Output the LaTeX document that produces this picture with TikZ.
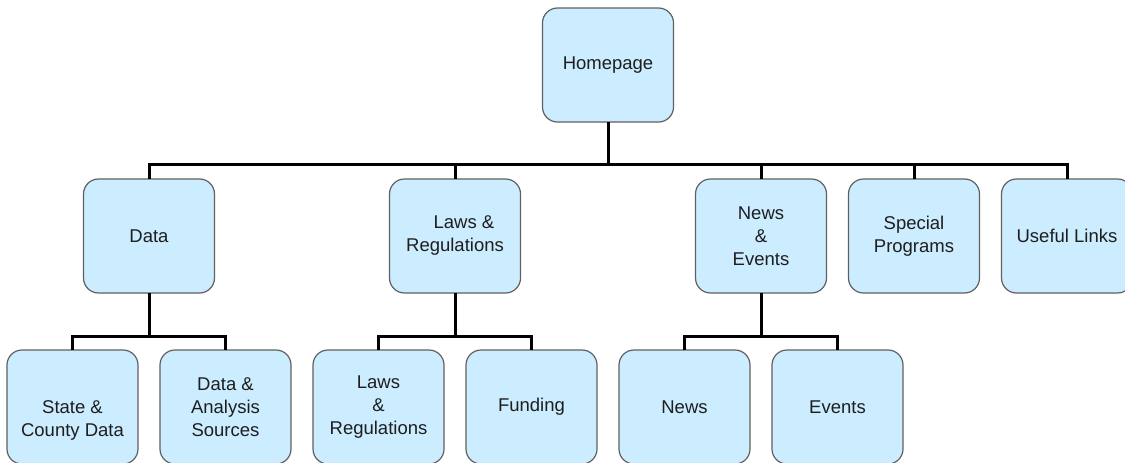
\documentclass[tikz,border=0pt]{standalone}
\usepackage{fontspec}
\setmainfont{Liberation Sans}
\usetikzlibrary{positioning,calc}
\definecolor{SiteFill}{RGB}{204,236,255}
\definecolor{SiteEdge}{RGB}{96,96,96}
\definecolor{SiteText}{RGB}{30,30,30}
\tikzset{
  site box/.style={
    draw=SiteEdge,
    fill=SiteFill,
    line width=1.2pt,
    rounded corners=15pt,
    align=center,
    text=SiteText,
    font=\fontsize{18.5}{23}\selectfont,
    inner sep=0pt,
    outer sep=0pt,
    minimum width=131pt,
    minimum height=114pt
  },
  site link/.style={line width=3pt, black}
}

\begin{document}
\begin{tikzpicture}[x=1pt, y=1pt, node distance=57pt and 22pt]
\useasboundingbox (0,0) rectangle (1125,-463);
% bottom row
\node[site box] (sc) at (72.5,-407) {\strut\\State \&\\County Data};
\node[site box, right=of sc] (das) {Data \&\\Analysis\\Sources};
\node[site box, right=of das] (lr) {Laws\\\&\\Regulations};
\node[site box, right=of lr] (fund) {Funding};
\node[site box, right=of fund] (news) {News};
\node[site box, right=of news] (events) {Events};
% middle row
\coordinate (m1) at ($(sc.north)!.5!(das.north)$);
\coordinate (m2) at ($(lr.north)!.5!(fund.north)$);
\coordinate (m3) at ($(news.north)!.5!(events.north)$);
\node[site box, above=of m1] (data) {Data};
\node[site box, above=of m2] (laws) {\hspace*{18pt}Laws \&\\Regulations};
\node[site box, above=of m3] (newsev) {News\\\&\\Events};
\node[site box, right=of newsev] (spec) {Special\\Programs};
\node[site box, right=of spec] (links) {Useful Links};
% top
\coordinate (m0) at ($(data.north)!.5!(links.north)$);
\node[site box, above=of m0] (home) {Homepage};
\foreach \c in {data,laws,newsev,spec,links}
  \draw[site link] (\c.north) -- ++(0,15) -| (home.south);
\foreach \c in {sc,das}
  \draw[site link] (\c.north) -- ++(0,14) -| (data.south);
\foreach \c in {lr,fund}
  \draw[site link] (\c.north) -- ++(0,14) -| (laws.south);
\foreach \c in {news,events}
  \draw[site link] (\c.north) -- ++(0,14) -| (newsev.south);
\end{tikzpicture}
\end{document}
